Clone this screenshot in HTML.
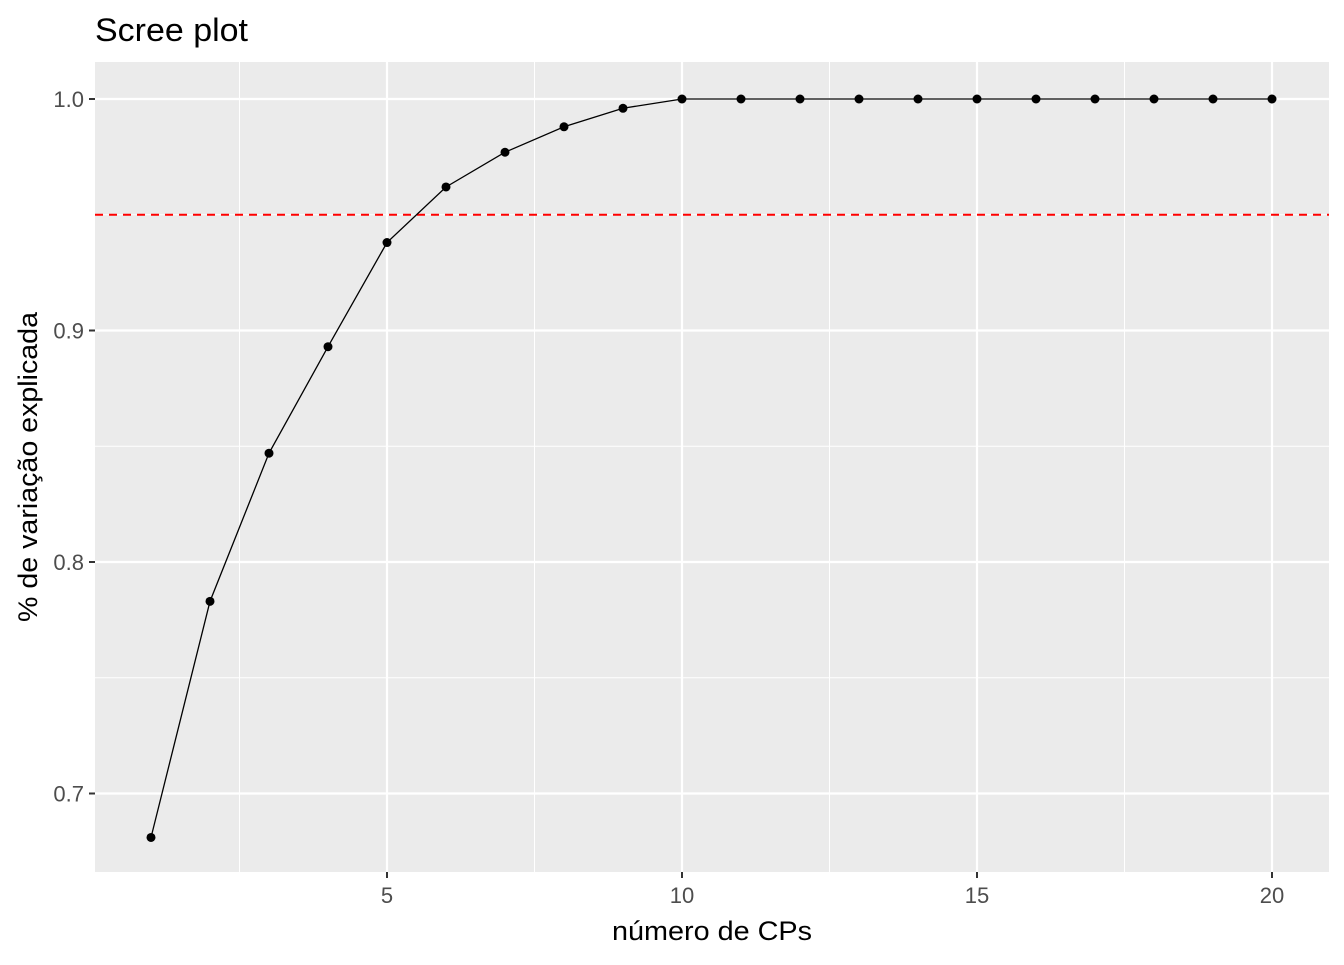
<!DOCTYPE html>
<html><head><meta charset="utf-8"><style>
html,body{margin:0;padding:0;background:#fff;}
svg text{font-family:"Liberation Sans",Arial,sans-serif;}
</style></head><body>
<svg id="chart" width="1344" height="960" xmlns="http://www.w3.org/2000/svg">
<rect x="0" y="0" width="1344" height="960" fill="#fff"/>
<text x="95" y="41" font-size="32" textLength="153" lengthAdjust="spacingAndGlyphs" fill="#000">Scree plot</text>
<rect x="95" y="62" width="1234" height="810" fill="#ebebeb"/>
<g id="grid"></g>
<g id="marks"></g>
<g id="axes"></g>
<text x="712" y="940" font-size="27" text-anchor="middle" textLength="200" lengthAdjust="spacingAndGlyphs" fill="#000">número de CPs</text>
<text transform="translate(37,467) rotate(-90)" font-size="27" text-anchor="middle" textLength="310" lengthAdjust="spacingAndGlyphs" fill="#000">% de variação explicada</text>
</svg>
<script>
const components = [1,2,3,4,5,6,7,8,9,10,11,12,13,14,15,16,17,18,19,20];
const cumVariance = [0.681,0.783,0.847,0.893,0.938,0.962,0.977,0.988,0.996,1.0,1.0,1.0,1.0,1.0,1.0,1.0,1.0,1.0,1.0,1.0];
const threshold = [0.95];
const xTicks = [5,10,15,20];
const yTicks = [0.7,0.8,0.9,1.0];
const yTickLabels = ["0.7","0.8","0.9","1.0"];

const NS="http://www.w3.org/2000/svg";
const X = v => 387 + (v-5)*59;
const Y = v => 99 + (1.0-v)*2315;
function mk(tag, attrs, parent){const e=document.createElementNS(NS,tag);for(const k in attrs)e.setAttribute(k,attrs[k]);parent.appendChild(e);return e;}
const grid=document.getElementById('grid'), marks=document.getElementById('marks'), axes=document.getElementById('axes');
const L=95,R=1329,T=62,B=872;
for(let i=0;i<xTicks.length+1;i++){const v=xTicks[0]-2.5+i*5; if(X(v)>L&&X(v)<R){const g=mk('line',{x1:X(v),x2:X(v),y1:T,y2:B,stroke:'#fff','stroke-width':1},grid);

}}
for(let i=0;i<yTicks.length-1;i++){const v=(yTicks[i]+yTicks[i+1])/2;const g=mk('line',{x1:L,x2:R,y1:Y(v),y2:Y(v),stroke:'#fff','stroke-width':1},grid);

}
xTicks.forEach(v=>{const g=mk('line',{x1:X(v),x2:X(v),y1:T,y2:B,stroke:'#fff','stroke-width':2.2},grid);


const t=mk('line',{x1:X(v),x2:X(v),y1:B,y2:B+6,stroke:'#333','stroke-width':2},axes);


const l=mk('text',{x:X(v),y:B+31,'font-size':22,'text-anchor':'middle',fill:'#4d4d4d'},axes);l.textContent=v;

});
yTicks.forEach((v,i)=>{const g=mk('line',{x1:L,x2:R,y1:Y(v),y2:Y(v),stroke:'#fff','stroke-width':2.2},grid);


const t=mk('line',{x1:L-6,x2:L,y1:Y(v),y2:Y(v),stroke:'#333','stroke-width':2},axes);


const l=mk('text',{x:L-11,y:Y(v)+8,'font-size':22,'text-anchor':'end',fill:'#4d4d4d'},axes);l.textContent=yTickLabels[i];

});
const th=mk('line',{x1:L,x2:R,y1:Y(threshold[0]),y2:Y(threshold[0]),stroke:'#ff0000','stroke-width':2,'stroke-dasharray':'8,6'},marks);


const pts=components.map((c,i)=>X(c)+','+Y(cumVariance[i])).join(' ');
const pl=mk('polyline',{points:pts,fill:'none',stroke:'#000','stroke-width':1.3},marks);


components.forEach((c,i)=>{const p=mk('circle',{cx:X(c),cy:Y(cumVariance[i]),r:4.5,fill:'#000'},marks);

});
</script>
</body></html>
